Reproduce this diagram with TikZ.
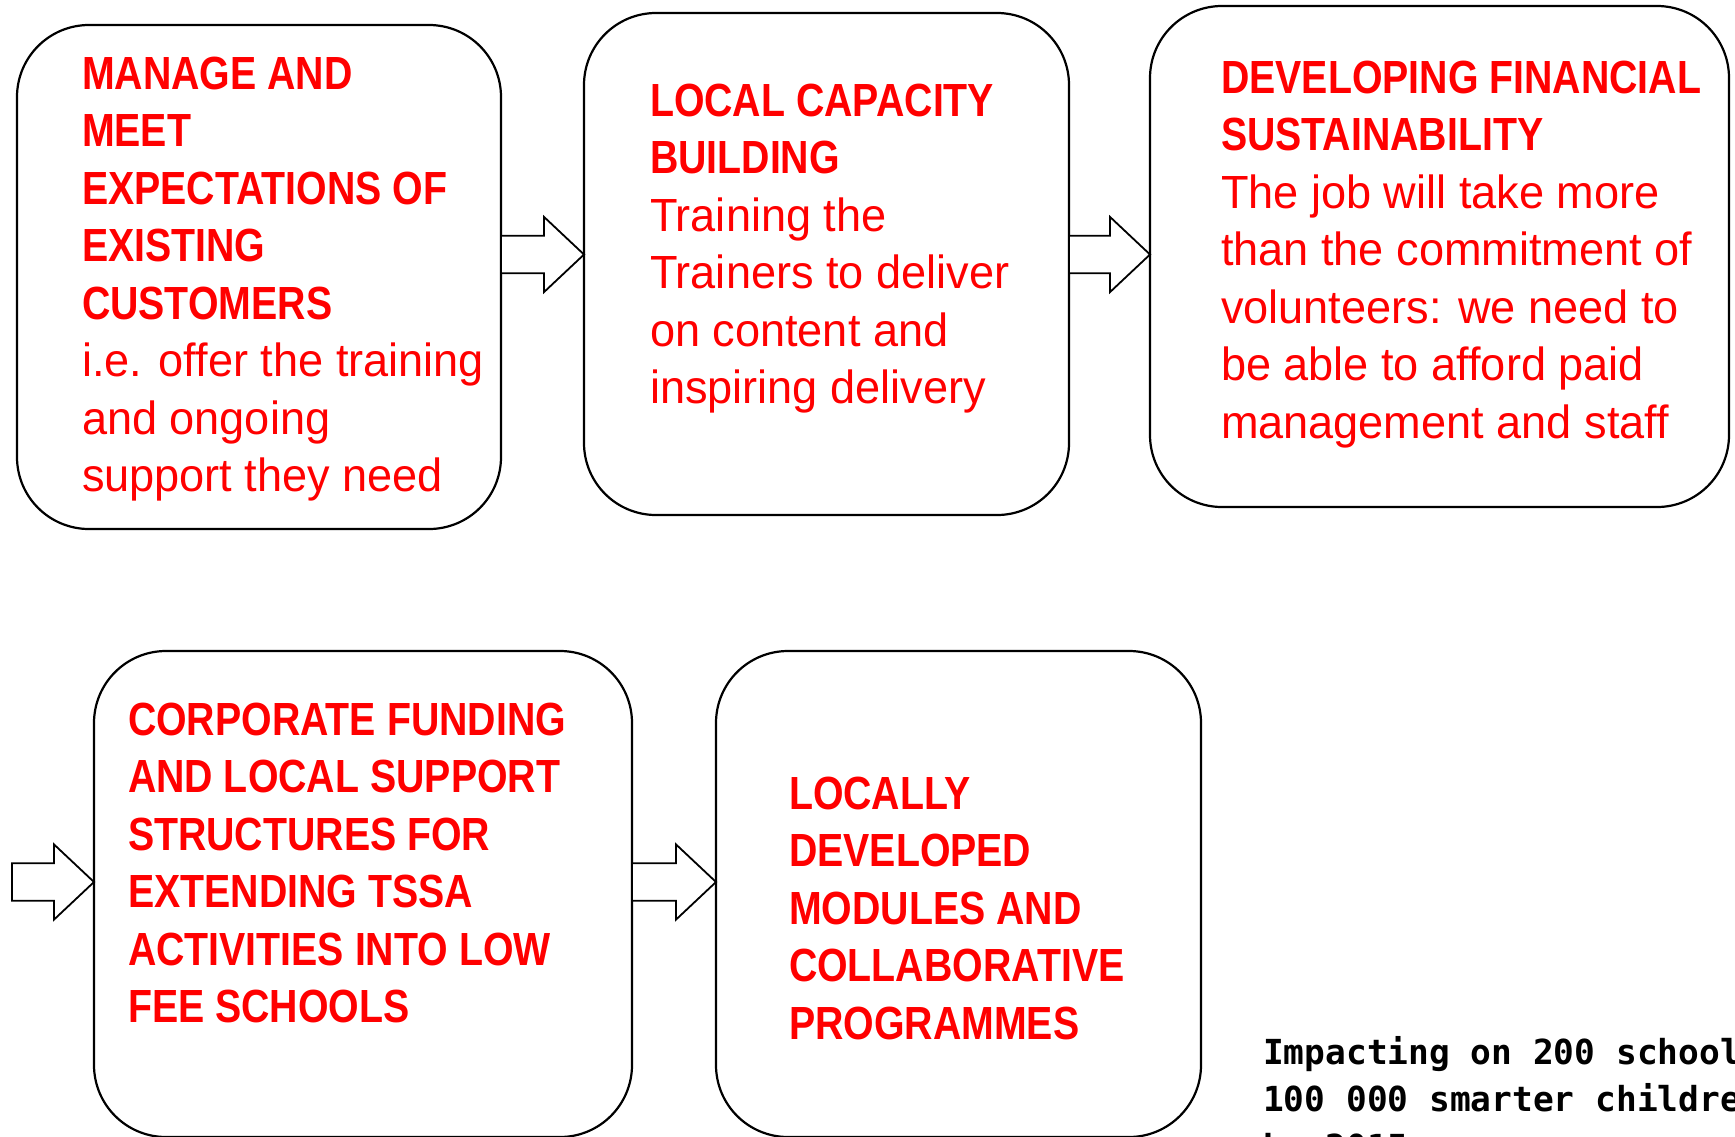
\documentclass[tikz,border=0pt]{standalone}
\usepackage{fontspec}
\setmainfont[FakeStretch=0.97]{Liberation Sans}
\newfontfamily\hfont[FakeStretch=0.845]{Liberation Sans}
\newfontfamily\mfont{DejaVu Sans Mono}
\usetikzlibrary{calc}
\definecolor{txtred}{RGB}{255,0,0}
\newcommand\fs{\fontsize{46.5}{57.5}\selectfont}
\newcommand\hd{\hfont\bfseries}
\newcommand\bd{\normalfont}
\newcommand\barrow[2]{\draw[blockarr] let \p1=(#1), \p2=(#2) in
  (\x1,\y2+18.8pt) -- (\x2-40pt,\y2+18.8pt) -- (\x2-40pt,\y2+37.6pt) -- (\x2,\y2)
  -- (\x2-40pt,\y2-37.6pt) -- (\x2-40pt,\y2-18.8pt) -- (\x1,\y2-18.8pt) -- cycle;}
\begin{document}
\begin{tikzpicture}[x=1pt,y=-1pt,
  box/.style={draw=black, line width=2.2pt, rounded corners=72pt, fill=white, inner sep=0pt, outer sep=0pt},
  blockarr/.style={draw=black, line width=1.8pt, fill=white, line join=miter},
  lbl/.style={anchor=base west, inner sep=0pt, outer sep=0pt, text=txtred}]
\fill[white] (0,0) rectangle (1735,1136);
\useasboundingbox (0,0) rectangle (1735,1136);
\clip (0,0) rectangle (1735,1136);

\node[box, minimum width=484pt, minimum height=504pt] (b1) at (259,277) {};
\node[box, minimum width=485pt, minimum height=502pt] (b2) at (826.5,264) {};
\node[box, minimum width=579pt, minimum height=501pt] (b3) at (1439.5,256.5) {};
\node[box, minimum width=538pt, minimum height=486pt] (b4) at (363,894) {};
\node[box, minimum width=485pt, minimum height=486pt] (b5) at (958.5,894) {};

\coordinate (r1) at (0,254.5);
\coordinate (s3) at (12,882);
\barrow{b1.east}{b2.west |- r1}
\barrow{b2.east}{b3.west |- r1}
\barrow{s3}{b4.west |- s3}
\barrow{b4.east}{b5.west |- s3}

\node[lbl] (t1) at (82,89) {\parbox[t]{700pt}{\fs\raggedright\hd MANAGE AND\\MEET\\EXPECTATIONS OF\\EXISTING\\CUSTOMERS\\\bd i.e. offer the training\\and ongoing\\support they need}};
\node[lbl] (t2) at (650,116) {\parbox[t]{700pt}{\fs\raggedright\hd LOCAL CAPACITY\\BUILDING\\\bd Training the\\Trainers to deliver\\on content and\\inspiring delivery}};
\node[lbl] (t3) at (1221,93) {\parbox[t]{700pt}{\fs\raggedright\hd DEVELOPING FINANCIAL\\SUSTAINABILITY\\\bd The job will take more\\than the commitment of\\volunteers: we need to\\be able to afford paid\\management and staff}};
\node[lbl] (t4) at (128,735) {\parbox[t]{700pt}{\fs\raggedright\hd CORPORATE FUNDING\\AND LOCAL SUPPORT\\STRUCTURES FOR\\EXTENDING TSSA\\ACTIVITIES INTO LOW\\FEE SCHOOLS}};
\node[lbl] (t5) at (789,809) {\parbox[t]{700pt}{\fs\raggedright\hd LOCALLY\\DEVELOPED\\MODULES AND\\COLLABORATIVE\\PROGRAMMES}};
\node[anchor=base west, inner sep=0pt, text=black] (t6) at (1263,1064) {\parbox[t]{700pt}{\fontsize{34.5}{47.6}\selectfont\raggedright\mfont\bfseries Impacting on 200 schools\\100 000 smarter children\\by 2015}};
\end{tikzpicture}
\end{document}
